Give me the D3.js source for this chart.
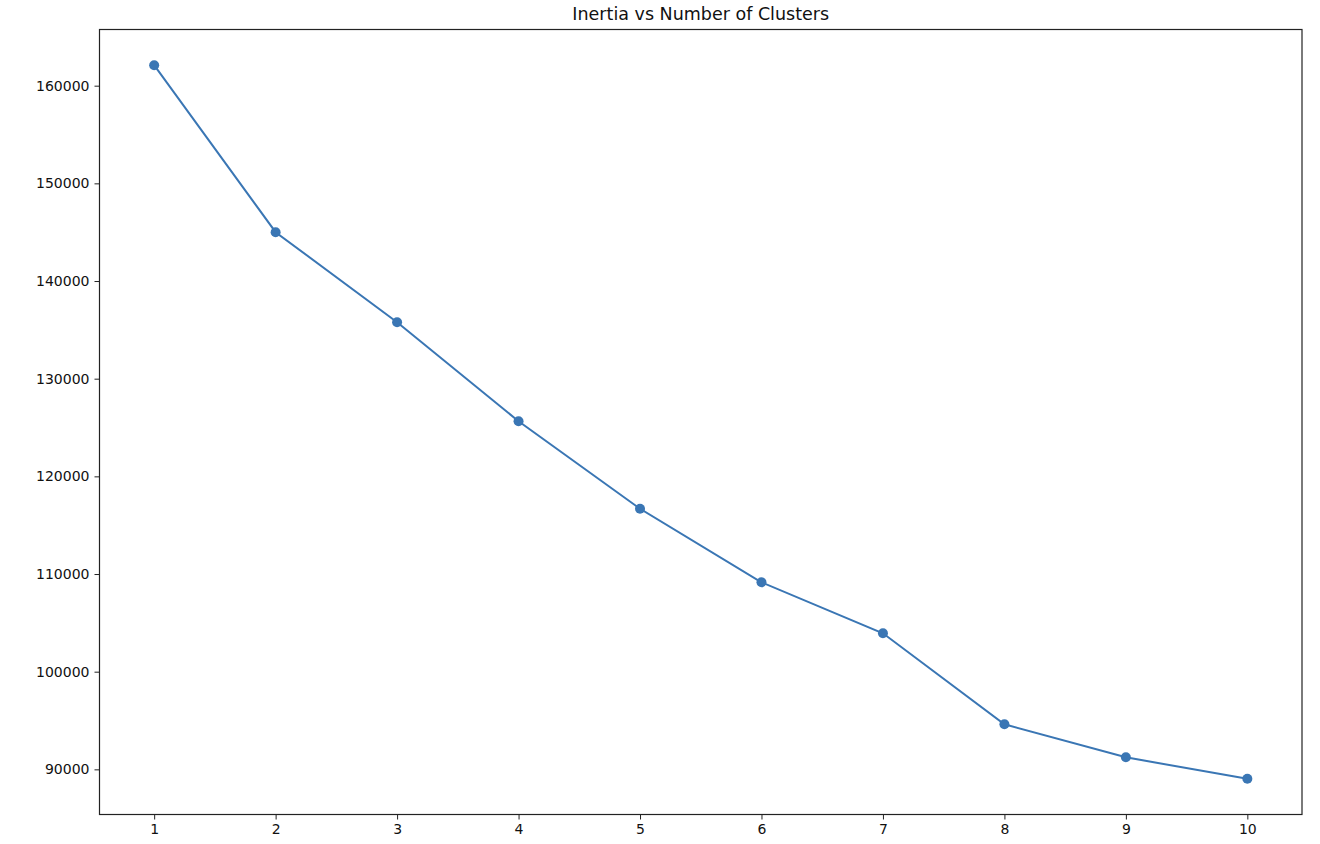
<!DOCTYPE html>
<html><head><meta charset="utf-8">
<script src="https://cdn.jsdelivr.net/npm/d3@7"></script>
<style>body{margin:0;background:#fff;} text{font-family:"DejaVu Sans",sans-serif;}</style>
</head><body>
<svg id="c" width="1320" height="844"></svg>
<script>
const clusters = [1,2,3,4,5,6,7,8,9,10];
const inertia = [162100,145000,135780,125640,116680,109150,103930,94610,91230,89030];
const yTicks = [90000,100000,110000,120000,130000,140000,150000,160000];
const title = "Inertia vs Number of Clusters";

const svg = d3.select("#c");
const L=99.5, R=1302, T=29.5, B=814.5;
const x = d3.scaleLinear().domain([0.55,10.45]).range([L,R]);
const y = d3.scaleLinear().domain([85377,165753]).range([B,T]);
const color = "#3a76b4";

const g = svg.append("g");
g.append("path").datum(clusters.map((c,i)=>[c,inertia[i]]))
  .attr("fill","none").attr("stroke",color).attr("stroke-width",2)
  .attr("d", d3.line().x(d=>x(d[0])).y(d=>y(d[1])));
g.selectAll("circle").data(clusters).join("circle")
  .attr("cx",(d)=>x(d)).attr("cy",(d,i)=>y(inertia[i])).attr("r",5).attr("fill",color);

const xa = svg.append("g").attr("transform",`translate(0,${B})`)
  .call(d3.axisBottom(x).tickValues(clusters).tickFormat(d3.format("d")).tickSize(5).tickPadding(5));
const ya = svg.append("g").attr("transform",`translate(${L},0)`)
  .call(d3.axisLeft(y).tickValues(yTicks).tickFormat(d3.format("d")).tickSize(5).tickPadding(5));
[xa,ya].forEach(a=>{a.select(".domain").remove();
  a.selectAll("text").attr("font-size",14).attr("fill","#111").style("font-family","DejaVu Sans");
  a.selectAll("line").attr("stroke","#222");});
svg.append("rect").attr("x",L).attr("y",T).attr("width",R-L).attr("height",B-T)
  .attr("fill","none").attr("stroke","#222").attr("stroke-width",1.2);
svg.append("text").attr("x",(L+R)/2).attr("y",20).attr("text-anchor","middle")
  .attr("font-size",17.5).attr("fill","#111").text(title);
</script>
</body></html>
